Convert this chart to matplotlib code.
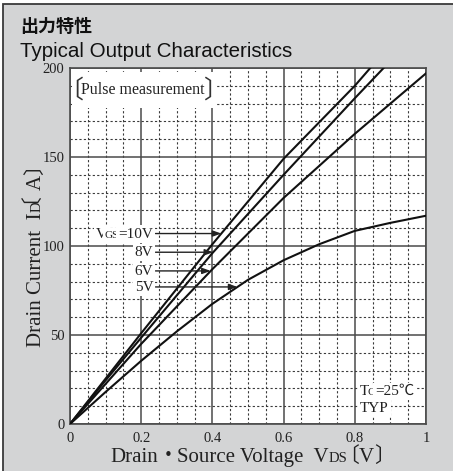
import matplotlib
matplotlib.use('Agg')
import matplotlib.pyplot as plt
import numpy as np
from matplotlib.patches import Rectangle

W, H = 453, 471
PANEL = '#d3d4d5'
SERIF = ['Liberation Serif', 'Noto Sans CJK JP']
CJK = ['Noto Sans CJK JP']

# drain current curves for each gate voltage (V, A)
vds_10v = [0, 0.1, 0.2, 0.4, 0.6, 0.8, 0.9]
id_10v = [0, 25.5, 51, 101, 149, 190, 213]
vds_8v = [0, 0.1, 0.2, 0.4, 0.6, 0.8, 0.9]
id_8v = [0, 24.5, 48.5, 96, 140, 183, 204]
vds_6v = [0, 0.1, 0.2, 0.4, 0.6, 0.8, 1.0]
id_6v = [0, 22.5, 45, 87, 127, 163, 197]
vds_5v = [0, 0.1, 0.2, 0.3, 0.4, 0.5, 0.6, 0.7, 0.8, 0.9, 1.0]
id_5v = [0, 18, 35.5, 52, 67.5, 81, 92, 101, 108.5, 113, 117]

# label arrows: current level where each arrow hits its curve
arrow_id = [107, 96.5, 86, 77]

x_ticks = [0, 0.2, 0.4, 0.6, 0.8, 1.0]
x_ticklabels = ['0', '0.2', '0.4', '0.6', '0.8', '1']
y_ticks = [0, 50, 100, 150, 200]

fig = plt.figure(figsize=(W / 100, H / 100), dpi=100, facecolor='white')
fig.patches.append(Rectangle((3 / W, -0.1), 1.2, 1 - 4 / H + 0.1,
                             transform=fig.transFigure, facecolor=PANEL,
                             edgecolor='#3a3a3a', linewidth=1.3, zorder=-10))

ax = fig.add_axes([70 / W, (H - 424) / H, 356 / W, 356 / H])
ax.set_xlim(0, 1)
ax.set_ylim(0, 200)
ax.set_xticks(x_ticks)
ax.set_xticklabels(x_ticklabels)
ax.set_yticks(y_ticks)
ax.set_xticks(np.arange(0, 1.0001, 0.05), minor=True)
ax.set_yticks(np.arange(0, 200.001, 10), minor=True)
ax.tick_params(which='both', length=0)
ax.tick_params(axis='x', pad=6)
ax.tick_params(axis='y', pad=4)
for lab in ax.get_xticklabels() + ax.get_yticklabels():
    lab.set_family(SERIF)
    lab.set_fontsize(10.5)
    lab.set_color('#222222')
ax.grid(which='minor', color='#3a3a3a', linestyle=(0, (2, 2)), linewidth=0.8)
ax.grid(which='major', color='#4a4a4a', linestyle='-', linewidth=1.1)
ax.set_axisbelow(True)
for sp in ax.spines.values():
    sp.set_color('#4a4a4a')
    sp.set_linewidth(1.2)

curves = [(vds_10v, id_10v), (vds_8v, id_8v), (vds_6v, id_6v), (vds_5v, id_5v)]
for v, i in curves:
    ax.plot(v, i, color='#111111', lw=1.5, zorder=3)


def rich_text(x, y, parts, rotation=0, ha='left', color='#222222', bbox=None):
    """draw a run of (text, size[, pre, post, nudge]) pieces from pixel point
    x, y (from bottom); pre/post shift the pen in pixels around a piece,
    nudge moves only the drawn piece by (dx, dy) pixels"""
    r = fig.canvas.get_renderer()
    parts = [tuple(p) + (0, 0, (0, 0))[len(p) - 2:] for p in parts]
    fams = [CJK if all(ord(c) > 0x3000 for c in p[0]) else SERIF for p in parts]
    widths = []
    for (s, fs, pre, post, nudge), fam in zip(parts, fams):
        t = fig.text(0, 0, s, fontsize=fs, family=fam)
        widths.append(t.get_window_extent(renderer=r).width)
        t.remove()
    total = sum(w + p[2] + p[3] for w, p in zip(widths, parts))
    pos = -{'left': 0, 'center': total / 2, 'right': total}[ha]
    a = np.deg2rad(rotation)
    for (s, fs, pre, post, nudge), w, fam in zip(parts, widths, fams):
        pos += pre
        fig.text((x + pos * np.cos(a) + nudge[0]) / W,
                 (y + pos * np.sin(a) + nudge[1]) / H, s,
                 fontsize=fs, family=fam, rotation=rotation,
                 rotation_mode='anchor', ha='left', va='baseline',
                 color=color, bbox=bbox, zorder=6)
        pos += w + post
    return total


# title
fig.text(20 / W, 1 - 32 / H, '出力特性', fontsize=13, fontweight='bold',
         family=CJK, va='baseline', color='#111111')
fig.text(20 / W, 1 - 57 / H, 'Typical Output Characteristics', fontsize=14.8,
         family=['Liberation Sans'], va='baseline', color='#111111')

# axis titles
LS = 15
EM = LS * 100 / 72
rich_text(248, H - 462, [('Drain', LS), ('・', LS, 0, -2), ('Source Voltage  V', LS),
                         ('DS', 10.5), ('〔', LS, -0.45 * EM, 0), ('V', LS),
                         ('〕', LS, 0, -0.45 * EM)], ha='center')
# the rotated opening bracket lands off the line, pull it back in place
rich_text(41, H - 255, [('Drain Current  I', LS), ('D', 10.5),
                        ('〔', LS, -0.45 * EM, 0, (-16, 8)),
                        ('A', LS), ('〕', LS, 0, -0.45 * EM)], rotation=90, ha='center')

# gate voltage labels with arrows onto the curves
white = dict(facecolor='white', edgecolor='none', pad=1.5)
gate_parts = [[('V', 11, 0, -2), ('GS', 8, 0, -0.5), ('=10V', 11)],
              [('8V', 11)], [('6V', 11)], [('5V', 11)]]
for (v, i), lvl, parts in zip(curves, arrow_id, gate_parts):
    tip = np.interp(lvl, i, v)
    px, py = ax.transData.transform((0.234, lvl))
    rich_text(px, py - 4, parts, ha='right', bbox=white)
    ax.annotate('', xy=(tip, lvl), xytext=(0.24, lvl),
                arrowprops=dict(arrowstyle='-|>,head_length=0.5,head_width=0.18',
                                color='#222222', lw=1.0, shrinkA=0, shrinkB=0),
                zorder=5)

# pulse measurement note
px, py = ax.transData.transform((0.2056, 187.6))
fig.text(px / W, py / H, 'Pulse measurement', fontsize=11.5, family=SERIF,
         ha='center', va='center', color='#222222', zorder=6,
         bbox=dict(facecolor='white', edgecolor='none', pad=7))
fig.text((px - 72) / W, py / H, '〔', fontsize=18, family=CJK,
         ha='center', va='center', color='#333333', zorder=7)
fig.text((px + 72) / W, py / H, '〕', fontsize=18, family=CJK,
         ha='center', va='center', color='#333333', zorder=7)

# case temperature note
rich_text(360, H - 395, [('T', 11, 0, -1.5), ('C', 8, 0, -0.5), ('=25℃', 11)], bbox=white)
rich_text(360, H - 412, [('TYP', 11)], bbox=white)

fig.savefig('out.png', dpi=100, facecolor=fig.get_facecolor())
